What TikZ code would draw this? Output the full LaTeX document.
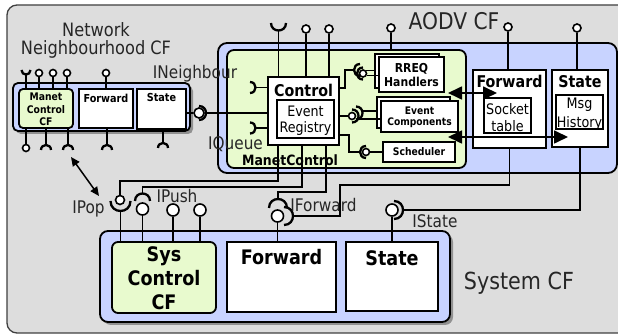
\documentclass[tikz,border=0pt]{standalone}
\usepackage{fontspec}
\setmainfont{DejaVu Sans}[FakeStretch=0.88]
\usetikzlibrary{arrows.meta,shadows}
\definecolor{panel}{RGB}{221,221,221}
\definecolor{cfblue}{RGB}{200,211,255}
\definecolor{cfgreen}{RGB}{232,250,206}
\definecolor{shade}{RGB}{145,145,145}
\newcommand\fsz[1]{\fontsize{#1pt}{#1pt}\selectfont}
\newcommand\bfz[1]{\bfseries\fontsize{#1pt}{#1pt}\selectfont}
% receptacle outlines (centre x, centre y, radius), named by the side they open to
\newcommand\recvU[3]{\draw[rim] ({#1-#3},#2) .. controls ({#1-#3},{#2+1.333*#3}) and ({#1+#3},{#2+1.333*#3}) .. ({#1+#3},#2);}
\newcommand\recvD[3]{\draw[rim] ({#1-#3},#2) .. controls ({#1-#3},{#2-1.333*#3}) and ({#1+#3},{#2-1.333*#3}) .. ({#1+#3},#2);}
\newcommand\recvL[3]{\draw[rim] (#1,{#2-#3}) .. controls ({#1+1.333*#3},{#2-#3}) and ({#1+1.333*#3},{#2+#3}) .. (#1,{#2+#3});}
\newcommand\recvR[3]{\draw[rim] (#1,{#2-#3}) .. controls ({#1-1.333*#3},{#2-#3}) and ({#1-1.333*#3},{#2+#3}) .. (#1,{#2+#3});}
\begin{document}
\begin{tikzpicture}[x=1pt,y=-1pt,
  wire/.style={draw=black,line width=1.7pt},
  rim/.style={draw=black,line width=2.3pt},
  ball/.style={circle,draw=black,fill=white,line width=1.6pt,inner sep=0pt,minimum size=#1},
  ball/.default=8pt,
  box/.style={draw=black,line width=1.8pt,fill=white,inner sep=0pt},
  cfbox/.style={box,fill=cfblue,rounded corners=#1},
  ctlbox/.style={box,fill=cfgreen,rounded corners=#1},
  shadowed/.style={drop shadow={shadow xshift=3pt,shadow yshift=-3pt,fill=shade,opacity=1}},
  lbl/.style={anchor=base,inner sep=0pt,text=black!85},
  bl/.style={anchor=base,inner sep=0pt,text=black},
  dbl/.style={wire,{Triangle[length=14pt,width=13pt]}-{Triangle[length=14pt,width=13pt]}}]
\useasboundingbox (0,0) rectangle (618,336);
\clip (0,0) rectangle (618,336);
\fill[white] (0,0) rectangle (618,336);
\draw[fill=panel,draw=black!75,line width=1.3pt,rounded corners=10pt] (7,5) rectangle (632,333);

% titles
\node[lbl,font=\fsz{18.4}] (tNet1) at (96,36.7) {Network};
\node[lbl,font=\fsz{18.4}] (tNet2) at (96,55) {Neighbourhood CF};
\node[lbl,font=\fsz{23}] (tAodv) at (454,29.5) {AODV CF};
\node[lbl,font=\fsz{23.5}] (tSys) at (519,290) {System CF};

% Network Neighbourhood CF
\node[cfbox=5pt,shadowed,minimum width=177pt,minimum height=48pt] (nnBox) at (101.5,107) {};
\node[ctlbox=4pt,minimum width=54pt,minimum height=39pt] (nnMC) at (46,108.5) {};
\node[box,minimum width=54pt,minimum height=39pt] (nnFwd) at (106,108.5) {};
\node[box,minimum width=49pt,minimum height=40pt] (nnSt) at (161.5,109) {};
\node[bl,font=\bfz{10.5}] (tMC1) at (46,101) {Manet};
\node[bl,font=\bfz{10.5}] (tMC2) at (46,113.5) {Control};
\node[bl,font=\bfz{10.5}] (tMC3) at (46,126) {CF};
\node[bl,font=\bfz{11}] (tNF) at (106,103) {Forward};
\node[bl,font=\bfz{11}] (tNS) at (161.5,102) {State};

% AODV CF
\node[cfbox=9pt,minimum width=399pt,minimum height=130pt] (aodvBox) at (417.5,108) {};
\node[ctlbox=7pt,minimum width=239pt,minimum height=118pt] (mcBox) at (346.5,109) {};
\node[box,minimum width=71pt,minimum height=68pt] (ctl) at (303.5,111) {};
\node[box,minimum width=57pt,minimum height=38pt] (evreg) at (305.5,119) {};
\node[box,minimum width=64pt,minimum height=34pt] (rreqB) at (407,71) {};
\node[box,minimum width=65pt,minimum height=35pt] (rreq) at (411.5,74.5) {};
\node[box,minimum width=73pt,minimum height=31pt] (evcB) at (413.5,112.5) {};
\node[box,minimum width=77pt,minimum height=31pt] (evc) at (419.5,116.5) {};
\node[box,minimum width=72pt,minimum height=20pt] (sched) at (419,152) {};
\node[box,minimum width=73pt,minimum height=78pt] (afwd) at (509.5,109) {};
\node[box,minimum width=47pt,minimum height=35pt] (sockt) at (507.5,115.5) {};
\node[box,minimum width=56pt,minimum height=77pt] (ast) at (580,108.5) {};
\node[box,minimum width=47pt,minimum height=34pt] (msgh) at (579.5,112) {};
\node[bl,font=\bfz{16.2}] (tCtl) at (303.5,97) {Control};
\node[bl,font=\fsz{14.4}] (tER1) at (305.5,117) {Event};
\node[bl,font=\fsz{14.4}] (tER2) at (305.5,133) {Registry};
\node[bl,font=\bfz{12.3}] (tRR1) at (411.5,73) {RREQ};
\node[bl,font=\bfz{12.3}] (tRR2) at (411.5,87) {Handlers};
\node[bl,font=\bfz{10.4}] (tEC1) at (419.5,114.5) {Event};
\node[bl,font=\bfz{10.4}] (tEC2) at (419.5,126) {Components};
\node[bl,font=\bfz{10.5}] (tSch) at (419,156) {Scheduler};
\node[bl,font=\bfz{16.2}] (tAF) at (509.5,88) {Forward};
\node[bl,font=\fsz{14.5}] (tST1) at (507.5,115) {Socket};
\node[bl,font=\fsz{14.5}] (tST2) at (507.5,132) {table};
\node[bl,font=\bfz{16.2}] (tAS) at (580,88) {State};
\node[bl,font=\fsz{14.5}] (tMH1) at (579.5,109) {Msg};
\node[bl,font=\fsz{14.5}] (tMH2) at (579.5,127.5) {History};
\node[bl,font=\bfz{14.2}] (tMC) at (290,166) {ManetControl};

% System CF
\node[cfbox=8pt,shadowed,minimum width=350pt,minimum height=91pt] (sysBox) at (275,276.5) {};
\node[ctlbox=6pt,minimum width=104pt,minimum height=71pt] (sysCtl) at (164,277.5) {};
\node[box,minimum width=109pt,minimum height=70pt] (sysFwd) at (281.5,277) {};
\node[box,minimum width=92pt,minimum height=69pt] (sysSt) at (392,276.5) {};
\node[bl,font=\bfz{20}] (tSC1) at (164,262) {Sys};
\node[bl,font=\bfz{20}] (tSC2) at (164,285.5) {Control};
\node[bl,font=\bfz{20}] (tSC3) at (164,309) {CF};
\node[bl,font=\bfz{20}] (tSF) at (281.5,265) {Forward};
\node[bl,font=\bfz{20}] (tSS) at (392,266) {State};

% Network Neighbourhood interfaces
\recvU{26}{70}{4.5}
\coordinate (nr0) at (26,74.5);
\draw[wire] (nr0) -- (nr0 |- nnMC.north);
\node[ball=7pt] (nb1) at (39,73) {};
\node[ball=7pt] (nb2) at (53,73) {};
\node[ball=7pt] (nb3) at (67,73) {};
\node[ball=7pt] (nb4) at (106,73) {};
\draw[wire] (nb1) -- (nb1 |- nnMC.north);
\draw[wire] (nb2) -- (nb2 |- nnMC.north);
\draw[wire] (nb3) -- (nb3 |- nnMC.north);
\draw[wire] (nb4) -- (nb4 |- nnFwd.north);
\node[ball=7pt] (nb5) at (26,148) {};
\draw[wire] (nb5 |- nnMC.south) -- (nb5);
\recvD{46}{150}{5}
\recvD{68}{150}{5}
\recvD{107}{150}{5}
\recvD{163}{148}{5}
\coordinate (na1) at (46,145);
\coordinate (na2) at (68,145);
\coordinate (na3) at (107,145);
\coordinate (na4) at (163,143);
\draw[wire] (na1 |- nnMC.south) -- (na1);
\draw[wire] (na2 |- nnMC.south) -- (na2);
\draw[wire] (na3 |- nnFwd.south) -- (na3);
\draw[wire] (na4 |- nnSt.south) -- (na4);
\coordinate (pA) at (71,157);
\coordinate (pB) at (99,196);
\draw[wire,line width=1.5pt,{Triangle[length=9pt,width=8pt]}-{Triangle[length=9pt,width=8pt]}] (pA) -- (pB);

% INeighbour binding
\node[ball=10pt] (bNb) at (199,113) {};
\draw[wire] (nnSt.east |- bNb) -- (bNb);
\recvL{199}{113}{7}
\coordinate (cNb) at (206,113);
\draw[wire] (cNb) -- (cNb -| ctl.west);

% Control: upper interfaces
\recvU{278.5}{23}{7.5}
\coordinate (rq1) at (278.5,30.5);
\draw[wire] (rq1) -- (rq1 |- ctl.north);
\node[ball] (ab1) at (306,29) {};
\node[ball] (ab2) at (329,29) {};
\node[ball] (ab3) at (391,28) {};
\node[ball] (ab4) at (508,27) {};
\node[ball] (ab5) at (577,28) {};
\draw[wire] (ab1) -- (ab1 |- ctl.north);
\draw[wire] (ab2) -- (ab2 |- ctl.north);
\draw[wire] (ab3) -- (ab3 |- mcBox.north);
\draw[wire] (ab4) -- (ab4 |- afwd.north);
\draw[wire] (ab5) -- (ab5 |- ast.north);

% Control: IQueue receptacles
\recvL{250}{87.5}{5.5}
\recvL{250}{128}{5.5}
\coordinate (lq1) at (255.5,87.5);
\coordinate (lq2) at (255.5,128);
\draw[wire] (lq1) -- (lq1 -| ctl.west);
\draw[wire] (lq2) -- (lq2 -| ctl.west);

% Control to RREQ Handlers
\coordinate (k1) at (345,88);
\coordinate (k2) at (345,70);
\coordinate (k3) at (354,70);
\draw[wire] (ctl.east |- k1) -- (k1) -- (k2) -- (k3);
\recvR{360}{70}{6}
\recvR{363}{73.5}{6}
\node[ball=7pt] (bq1) at (363,73.5) {};
\coordinate (q1a) at (366,70.5);
\coordinate (q1b) at (366.5,75.5);
\draw[wire] (q1a) -- (q1a -| rreqB.west);
\draw[wire] (q1b) -- (q1b -| rreq.west);

% Control to Event Components
\node[ball=7pt] (bq2) at (352,116) {};
\draw[wire] (ctl.east |- bq2) -- (bq2);
\recvL{352}{116}{6.5}
\recvL{356}{113}{6.5}
\coordinate (q2a) at (362,111);
\coordinate (q2b) at (358,119);
\draw[wire] (q2a) -- (q2a -| evcB.west);
\draw[wire] (q2b) -- (q2b -| evc.west);

% Control to Scheduler
\coordinate (k4) at (349,135);
\coordinate (k5) at (349,152);
\coordinate (k6) at (360,152);
\draw[wire] (ctl.east |- k4) -- (k4) -- (k5) -- (k6);
\recvR{366}{152}{6}
\node[ball=7pt] (bq3) at (366,152) {};
\draw[wire] (bq3) -- (bq3 -| sched.west);

% event flows
\coordinate (e1a) at (448,93);
\coordinate (e1b) at (497,93);
\coordinate (e2a) at (448,137);
\coordinate (e2b) at (568,137);
\draw[dbl] (e1a) -- (e1b);
\draw[dbl] (e2a) -- (e2b);

% IPop
\node[ball=9pt] (bPop) at (120,200) {};
\coordinate (k7) at (278,181);
\coordinate (k8) at (120,181);
\draw[wire] (k7 |- ctl.south) -- (k7) -- (k8) -- (bPop);
\recvU{120.5}{201}{10}
\coordinate (uPop) at (120.5,211);
\draw[wire] (uPop) -- (uPop |- sysCtl.north);

% IPush
\coordinate (k9) at (302,187);
\coordinate (k10) at (142.5,187);
\coordinate (dPush) at (142.5,193.5);
\draw[wire] (k9 |- ctl.south) -- (k9) -- (k10) -- (dPush);
\recvD{142.5}{201}{7.5}
\node[ball=12pt] (bPush) at (142.5,209) {};
\draw[wire] (bPush) -- (bPush |- sysCtl.north);
\node[ball=12pt] (bS3) at (173,210) {};
\node[ball=12pt] (bS4) at (200,210) {};
\draw[wire] (bS3) -- (bS3 |- sysCtl.north);
\draw[wire] (bS4) -- (bS4 |- sysCtl.north);

% IForward
\coordinate (k11) at (326,192);
\coordinate (k12) at (278,192);
\coordinate (dFwd) at (278,199);
\draw[wire] (k11 |- ctl.south) -- (k11) -- (k12) -- (dFwd);
\recvD{278}{208}{9}
\node[ball=12pt] (bFwd) at (277.5,216) {};
\recvL{284}{216}{9}
\coordinate (cFwd) at (293,216);
\coordinate (k13) at (340,216);
\coordinate (k14) at (340,185);
\draw[wire] (cFwd) -- (k13) -- (k14) -- (k14 -| afwd.south) -- (afwd.south);
\draw[wire] (bFwd) -- (bFwd |- sysFwd.north);

% IState
\node[ball=12pt] (bSt) at (392,210) {};
\recvL{394}{210}{9}
\coordinate (cSt) at (403,210);
\draw[wire] (ast.south) -- (ast.south |- cSt) -- (cSt);
\draw[wire] (bSt) -- (bSt |- sysSt.north);

% interface names
\node[lbl,font=\fsz{17.4}] (lNb) at (195,79) {INeighbour};
\node[lbl,font=\fsz{17.4}] (lQu) at (235.5,150) {IQueue};
\node[lbl,font=\fsz{17.4}] (lPop) at (88.5,214) {IPop};
\node[lbl,font=\fsz{17.4}] (lPush) at (177,203) {IPush};
\node[lbl,font=\fsz{17.4}] (lFwd) at (323.5,212) {IForward};
\node[lbl,font=\fsz{17.4}] (lSt) at (435,228) {IState};
\end{tikzpicture}
\end{document}
